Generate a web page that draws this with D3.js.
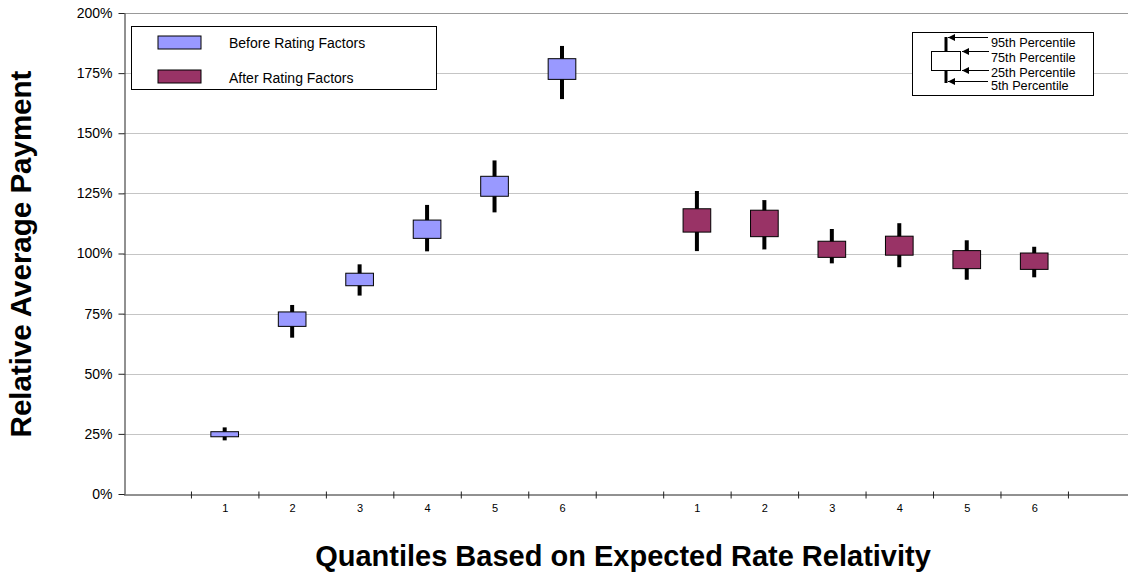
<!DOCTYPE html>
<html>
<head>
<meta charset="utf-8">
<script src="https://cdn.jsdelivr.net/npm/d3@7"></script>
<style>
  body { margin: 0; background: #fff; }
  text { font-family: Arial, "Liberation Sans", sans-serif; }
</style>
</head>
<body>
<div id="chart"></div>
<script>
// Data
const quantiles = ["1", "2", "3", "4", "5", "6"];
const seriesNames = ["Before Rating Factors", "After Rating Factors"];
const seriesColors = ["#9999ff", "#993366"];

const beforeP5  = [22.3, 65.0, 82.5, 100.9, 117.1, 164.2];
const beforeP25 = [23.8, 69.7, 86.6, 106.3, 123.8, 172.4];
const beforeP75 = [25.9, 75.7, 91.8, 113.9, 132.1, 181.0];
const beforeP95 = [27.7, 78.6, 95.5, 120.2, 138.7, 186.3];

const afterP5  = [101.0, 101.7, 95.9, 94.3, 89.1, 90.1];
const afterP25 = [108.9, 107.0, 98.4, 99.3, 93.7, 93.4];
const afterP75 = [118.6, 118.0, 105.1, 107.2, 101.2, 100.2];
const afterP95 = [126.0, 122.2, 110.2, 112.6, 105.5, 102.8];

const yTicks = [0, 25, 50, 75, 100, 125, 150, 175, 200];
const percentileLabels = ["95th Percentile", "75th Percentile", "25th Percentile", "5th Percentile"];

const W = 1128, H = 584;
const nSlots = 15;          // empty, 1-6, empty, 1-6, empty
const groupStart = [1, 8];  // first slot of each group

const svg = d3.select("#chart")
    .append("svg")
    .attr("width", W)
    .attr("height", H);

// Scales
const x = d3.scaleLinear().domain([0, nSlots]).range([123.5, 1135.4]);
const y = d3.scaleLinear().domain([0, 200]).range([494, 13]);
const slotW = x(1) - x(0);

// Gridlines
svg.append("g")
    .selectAll("line")
    .data(yTicks.filter(d => d > 0))
    .enter()
    .append("line")
    .attr("x1", x(0))
    .attr("x2", W)
    .attr("y1", d => Math.round(y(d)) + 0.5)
    .attr("y2", d => Math.round(y(d)) + 0.5)
    .attr("stroke", d => d === 200 ? "#999" : "#8a8a8a")
    .attr("stroke-dasharray", d => d === 200 ? null : "1,1")
    .attr("stroke-width", 1);

// Y axis
const yAxis = svg.append("g")
    .attr("transform", `translate(${Math.round(x(0)) + 0.5},0)`)
    .call(d3.axisLeft(y).tickValues(yTicks).tickFormat(d => d + "%").tickSize(6).tickPadding(6).tickSizeOuter(0));
yAxis.selectAll("text").attr("font-size", 14).attr("fill", "#000").style("font-family", "Arial, 'Liberation Sans', sans-serif");
yAxis.selectAll("line, path").attr("stroke", "#222");

// X axis: boundary ticks
const xAxis = svg.append("g")
    .attr("transform", `translate(0,${Math.round(y(0)) + 0.5})`)
    .call(d3.axisBottom(x).tickValues(d3.range(1, nSlots)).tickFormat("").tickSize(4).tickSizeOuter(0));
xAxis.selectAll("line").attr("y1", -3).attr("stroke", "#222");
xAxis.select("path").attr("stroke", "#222");

// X axis: quantile labels at slot centers
groupStart.forEach(start => {
    const g = svg.append("g")
        .attr("transform", `translate(0,${Math.round(y(0))})`)
        .call(d3.axisBottom(x)
            .tickValues(quantiles.map((q, i) => start + i + 0.5))
            .tickFormat((d, i) => quantiles[i])
            .tickSize(0).tickPadding(10));
    g.select("path").remove();
    g.selectAll("text").attr("font-size", 11).attr("fill", "#000")
        .style("font-family", "Arial, 'Liberation Sans', sans-serif");
});

// Box plots
const groups = [
    {p5: beforeP5, p25: beforeP25, p75: beforeP75, p95: beforeP95},
    {p5: afterP5, p25: afterP25, p75: afterP75, p95: afterP95}
];
const boxW = slotW * 0.41;

groups.forEach((grp, gi) => {
    const rows = quantiles.map((q, i) => ({
        pos: groupStart[gi] + i + 0.5,
        p5: grp.p5[i], p25: grp.p25[i], p75: grp.p75[i], p95: grp.p95[i]
    }));
    const g = svg.append("g");
    g.selectAll("line.whisker")
        .data(rows)
        .enter()
        .append("line")
        .attr("class", "whisker")
        .attr("x1", d => x(d.pos))
        .attr("x2", d => x(d.pos))
        .attr("y1", d => y(d.p95))
        .attr("y2", d => y(d.p5))
        .attr("stroke", "#000")
        .attr("stroke-width", 4);
    g.selectAll("rect")
        .data(rows)
        .enter()
        .append("rect")
        .attr("x", d => x(d.pos) - boxW / 2)
        .attr("y", d => y(d.p75))
        .attr("width", boxW)
        .attr("height", d => y(d.p25) - y(d.p75))
        .attr("fill", seriesColors[gi])
        .attr("stroke", "#000")
        .attr("stroke-width", 1);
});

// Series legend
const leg = svg.append("g");
leg.append("rect")
    .attr("x", 131.5).attr("y", 26.5).attr("width", 305).attr("height", 63)
    .attr("fill", "#fff").attr("stroke", "#000");
seriesNames.forEach((name, i) => {
    leg.append("rect")
        .attr("x", 158).attr("y", 36 + i * 34).attr("width", 43).attr("height", 13)
        .attr("fill", seriesColors[i]).attr("stroke", "#000");
    leg.append("text")
        .attr("x", 229).attr("y", 48 + i * 34.5)
        .attr("font-size", 14)
        .text(name);
});

// Percentile legend
const pl = svg.append("g");
svg.append("defs").append("marker")
    .attr("id", "arrow")
    .attr("viewBox", "0 0 10 10")
    .attr("refX", 10).attr("refY", 5)
    .attr("markerWidth", 7).attr("markerHeight", 7)
    .attr("markerUnits", "userSpaceOnUse")
    .attr("orient", "auto")
    .append("path")
    .attr("d", "M0,0 L10,5 L0,10 z")
    .attr("fill", "#000");

pl.append("rect")
    .attr("x", 912.5).attr("y", 32.5).attr("width", 181).attr("height", 63)
    .attr("fill", "#fff").attr("stroke", "#000");
pl.append("line").attr("x1", 946).attr("x2", 946).attr("y1", 37).attr("y2", 83)
    .attr("stroke", "#000").attr("stroke-width", 3);
pl.append("rect").attr("x", 931.5).attr("y", 51.5).attr("width", 29).attr("height", 19)
    .attr("fill", "#fff").attr("stroke", "#000");
const arrowRows = [
    {y: 37.5, to: 948, from: 988},
    {y: 51.5, to: 962, from: 989},
    {y: 70.5, to: 962, from: 989},
    {y: 81.5, to: 948, from: 988}
];
pl.selectAll("line.arrow")
    .data(arrowRows)
    .enter()
    .append("line")
    .attr("class", "arrow")
    .attr("x1", d => d.from).attr("x2", d => d.to)
    .attr("y1", d => d.y).attr("y2", d => d.y)
    .attr("stroke", "#000").attr("stroke-width", 1)
    .attr("marker-end", "url(#arrow)");
const labelY = [46.5, 61.5, 76.5, 90];
pl.selectAll("text")
    .data(percentileLabels)
    .enter()
    .append("text")
    .attr("x", 991)
    .attr("y", (d, i) => labelY[i])
    .attr("font-size", 12.7)
    .text(d => d);

// Axis titles
svg.append("text")
    .attr("transform", "translate(31,254) rotate(-90)")
    .attr("text-anchor", "middle")
    .attr("font-size", 29.5)
    .attr("font-weight", "bold")
    .text("Relative Average Payment");

svg.append("text")
    .attr("x", 623)
    .attr("y", 566)
    .attr("text-anchor", "middle")
    .attr("font-size", 29)
    .attr("font-weight", "bold")
    .text("Quantiles Based on Expected Rate Relativity");
</script>
</body>
</html>
